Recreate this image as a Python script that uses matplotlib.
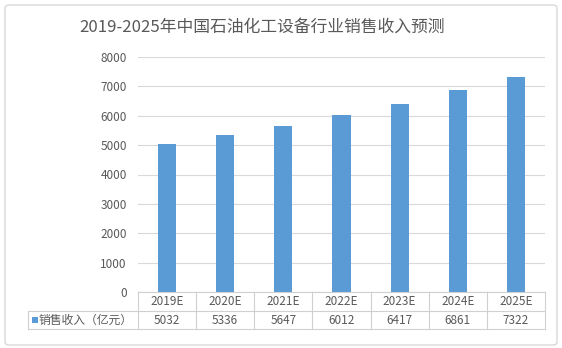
import matplotlib
matplotlib.use("Agg")
import matplotlib.pyplot as plt
from matplotlib.patches import FancyBboxPatch, Rectangle
from matplotlib.lines import Line2D

plt.rcParams['font.family'] = ['Noto Sans CJK SC', 'DejaVu Sans']

title = "2019-2025年中国石油化工设备行业销售收入预测"
categories = ["2019E", "2020E", "2021E", "2022E", "2023E", "2024E", "2025E"]
revenue = [5032, 5336, 5647, 6012, 6417, 6861, 7322]
series_name = "销售收入（亿元）"
y_ticks = [0, 1000, 2000, 3000, 4000, 5000, 6000, 7000, 8000]

W, H = 562, 348
bar_color = "#5B9BD5"
text_color = "#595959"
grid_color = "#D9D9D9"
table_color = "#D0D0D0"

fig = plt.figure(figsize=(W / 100, H / 100), dpi=100)

def fx(px):
    return px / W

def fy(py):
    return 1 - py / H

# outer chart frame
frame = FancyBboxPatch((fx(5), fy(345)), fx(557) - fx(5), fy(5) - fy(345),
                       boxstyle="round,pad=0,rounding_size=0.008",
                       transform=fig.transFigure, facecolor="none",
                       edgecolor="#D9D9D9", linewidth=1.0)
fig.patches.append(frame)

left, right, top, bottom = 138, 545, 57, 292
ax = fig.add_axes([fx(left), fy(bottom), fx(right) - fx(left), fy(top) - fy(bottom)])
x = list(range(len(categories)))
ax.bar(x, revenue, width=0.31, color=bar_color, zorder=3)
ax.set_xlim(-0.5, len(categories) - 0.5)
ax.set_ylim(0, 8000)
ax.set_yticks(y_ticks)
ax.set_yticklabels([str(v) for v in y_ticks], fontsize=8.5, color=text_color)
ax.tick_params(axis="y", length=0, pad=8)
ax.set_xticks([])
ax.grid(axis="y", color=grid_color, linewidth=0.8, zorder=0)
for s in ax.spines.values():
    s.set_visible(False)
ax.set_facecolor("none")

fig.text(fx(262), fy(27), title, ha="center", va="center",
         fontsize=12.1, color=text_color)

# data table under the plot
row1_top, row1_bot, row2_bot = 292, 311, 329
leg_left = 28
col_w = (right - left) / len(categories)

def hline(y, x0, x1):
    fig.add_artist(Line2D([fx(x0), fx(x1)], [fy(y), fy(y)], transform=fig.transFigure,
                          color=table_color, linewidth=0.8))

def vline(xp, y0, y1):
    fig.add_artist(Line2D([fx(xp), fx(xp)], [fy(y0), fy(y1)], transform=fig.transFigure,
                          color=table_color, linewidth=0.8))

hline(row1_top, left, right)
hline(row1_bot, leg_left, right)
hline(row2_bot, leg_left, right)
vline(leg_left, row1_bot, row2_bot)
for i in range(len(categories) + 1):
    vline(left + i * col_w, row1_top, row2_bot)

for i, (c, v) in enumerate(zip(categories, revenue)):
    cx = left + (i + 0.5) * col_w
    fig.text(fx(cx), fy((row1_top + row1_bot) / 2), c, ha="center", va="center",
             fontsize=8.5, color=text_color)
    fig.text(fx(cx), fy((row1_bot + row2_bot) / 2), str(v), ha="center", va="center",
             fontsize=8.5, color=text_color)

fig.patches.append(Rectangle((fx(32), fy(323)), fx(6), fy(317) - fy(323),
                             transform=fig.transFigure, facecolor=bar_color, edgecolor="none"))
fig.text(fx(39), fy((row1_bot + row2_bot) / 2), series_name, ha="left", va="center",
         fontsize=8.5, color=text_color)

fig.savefig("out.png", dpi=100)
